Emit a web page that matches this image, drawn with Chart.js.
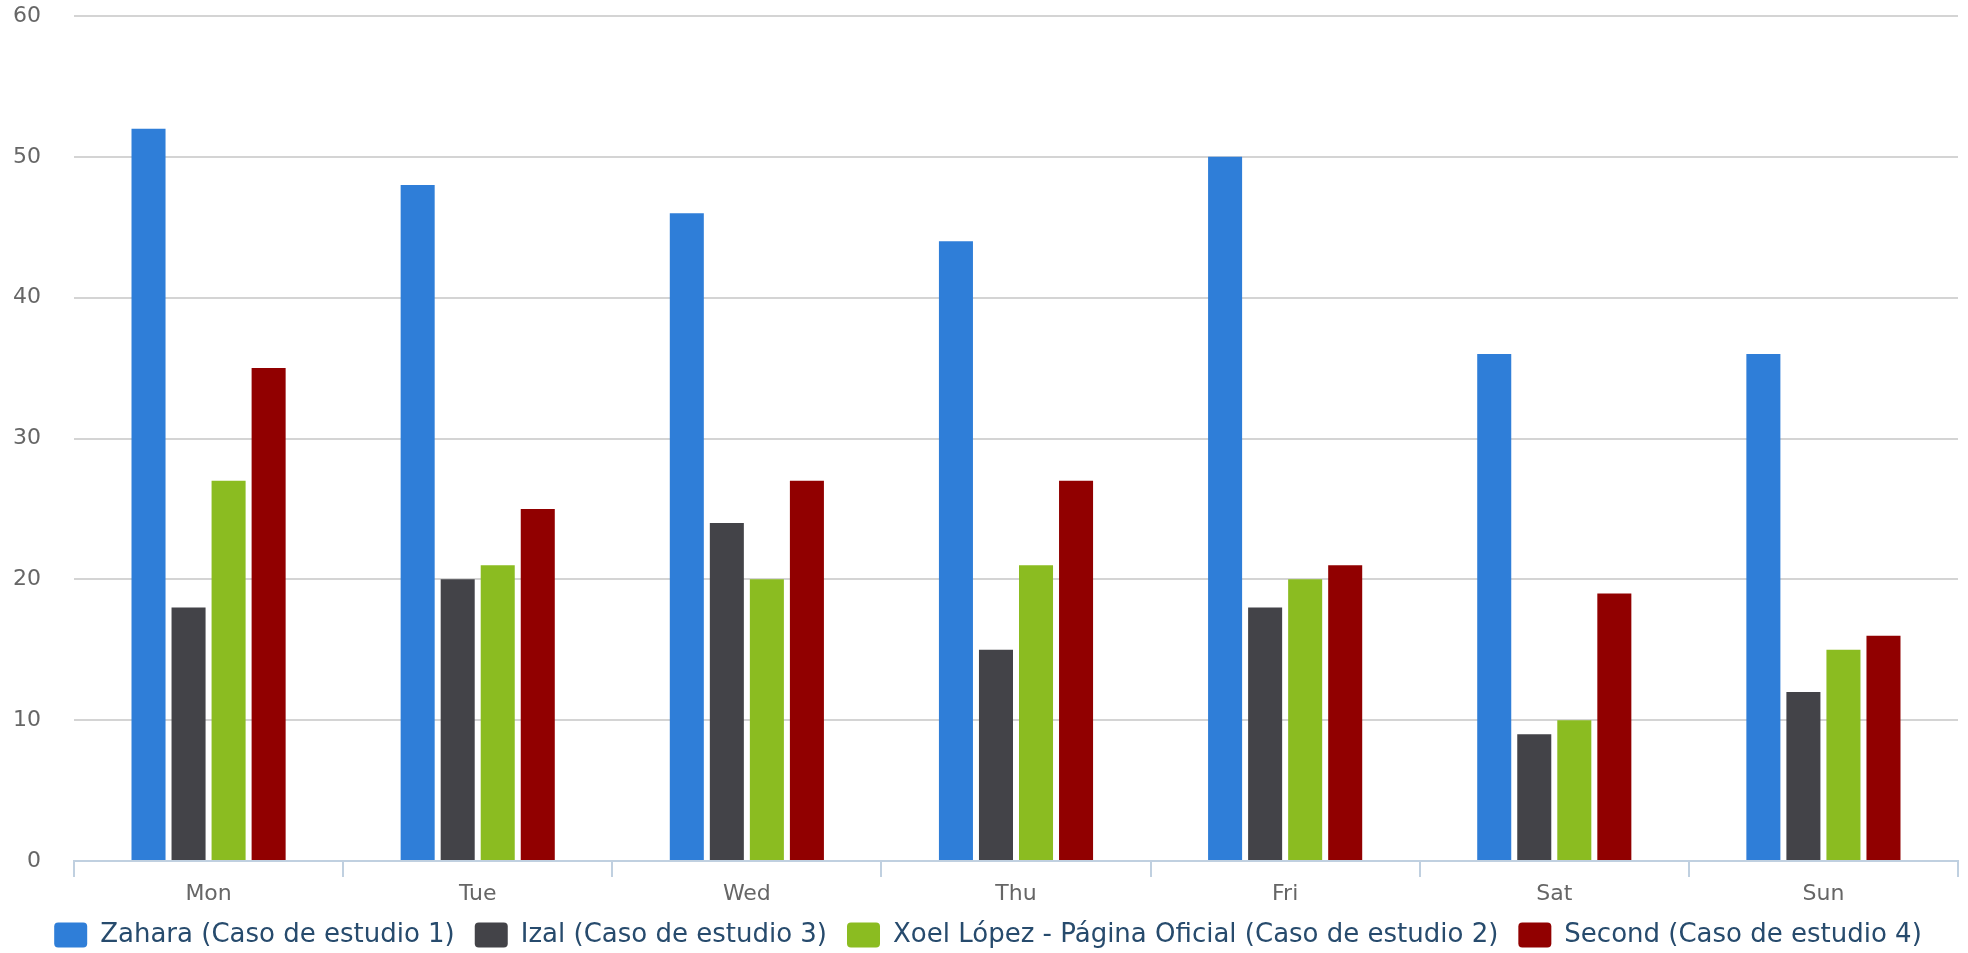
<!DOCTYPE html>
<html>
<head>
<meta charset="utf-8">
<script src="https://cdn.jsdelivr.net/npm/chart.js@4"></script>
<style>
    html, body { margin: 0; padding: 0; background: #ffffff; }
    #wrap { width: 1968px; height: 953px; }
</style>
</head>
<body>
<div id="wrap"><canvas id="chart"></canvas></div>
<script>
// Dados
const dias = ['Mon', 'Tue', 'Wed', 'Thu', 'Fri', 'Sat', 'Sun'];
const series = [
    'Zahara (Caso de estudio 1)',
    'Izal (Caso de estudio 3)',
    'Xoel López - Página Oficial (Caso de estudio 2)',
    'Second (Caso de estudio 4)'
];
const zahara = [52, 48, 46, 44, 50, 36, 36];
const izal = [18, 20, 24, 15, 18, 9, 12];
const xoel = [27, 21, 20, 21, 20, 10, 15];
const second = [35, 25, 27, 27, 21, 19, 16];
const yTicks = [0, 10, 20, 30, 40, 50, 60];
const cores = ['#2f7ed8', '#434348', '#8bbc21', '#910000'];

Chart.defaults.font.family = '"DejaVu Sans", sans-serif';

const valores = [zahara, izal, xoel, second];

// Legenda mais baixa: fixa a altura depois do fit e desloca um pouco pra direita
const legendaAjuste = {
    id: 'legendaAjuste',
    beforeLayout(chart) {
        const lg = chart.legend;
        if (lg && !lg._ajustada) {
            const fitOriginal = lg.fit.bind(lg);
            lg.fit = function() {
                fitOriginal();
                this.height = 51;
            };
            lg._ajustada = true;
        }
    },
    afterLayout(chart) {
        const lg = chart.legend;
        if (lg) {
            lg.left += 9;
            lg.right += 9;
        }
    }
};

new Chart(document.getElementById('chart').getContext('2d'), {
    type: 'bar',
    data: {
        labels: dias,
        datasets: series.map((nome, i) => ({
            label: nome,
            data: valores[i],
            backgroundColor: cores[i],
            borderWidth: 0,
            categoryPercentage: 0.595,
            barPercentage: 0.85
        }))
    },
    options: {
        responsive: true,
        maintainAspectRatio: false,
        animation: false,
        layout: { padding: { top: 16, right: 10, left: 0, bottom: 0 } },
        plugins: {
            tooltip: { enabled: false },
            legend: {
                position: 'bottom',
                labels: {
                    color: '#274b6d',
                    font: { size: 26 },
                    boxWidth: 33,
                    boxHeight: 25,
                    useBorderRadius: true,
                    borderRadius: 4,
                    padding: 20
                }
            }
        },
        scales: {
            x: {
                afterFit: s => { s.height = 41; },
                grid: { offset: true, drawOnChartArea: false, drawTicks: true, tickLength: 16, color: '#c0d0e0', lineWidth: 2 },
                border: { color: '#c0d0e0', width: 2 },
                ticks: { color: '#666666', font: { size: 22 }, padding: 4 }
            },
            y: {
                min: 0,
                max: 60,
                afterBuildTicks: s => { s.ticks = yTicks.map(v => ({ value: v })); },
                afterFit: s => { s.width = 74; s.paddingTop = 0; s.paddingBottom = 0; },
                ticks: { color: '#666666', font: { size: 22 }, padding: 33 },
                grid: { color: '#d4d4d4', lineWidth: 2, drawTicks: false },
                border: { display: false }
            }
        }
    },
    plugins: [legendaAjuste]
});
</script>
</body>
</html>
